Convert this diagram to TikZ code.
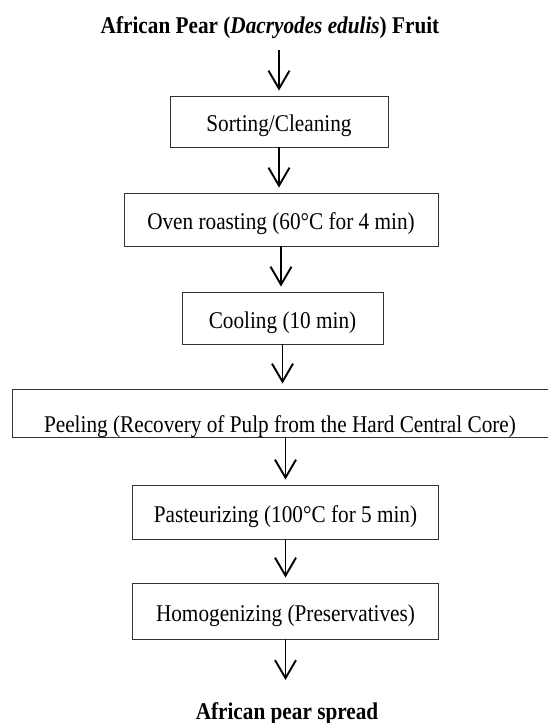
\documentclass[tikz,border=0pt]{standalone}
\usepackage{fontspec}
\setmainfont{Liberation Serif}[FakeStretch=0.885]
\usetikzlibrary{arrows.meta}
\begin{document}
\begin{tikzpicture}[x=1pt,y=-1pt,
  box/.style={draw=black!80, line width=0.9pt, inner sep=0pt, text height=20pt, text depth=0pt, font=\fontsize{24}{28}\selectfont},
  arr/.style={draw=black, line width=1.9pt, -{Straight Barb[length=18pt,width=21pt,line width=1.9pt]}, shorten >=5pt},
  lbl/.style={font=\fontsize{24}{28}\selectfont\bfseries, inner sep=3pt, anchor=base},
  plain/.style={font=\fontsize{24}{28}\selectfont, inner sep=0pt, anchor=base}]
\useasboundingbox (0,0) rectangle (548,723);
\clip (0,0) rectangle (548,723);

\node[lbl] (title) at (270,33) {African Pear (\textit{Dacryodes edulis}) Fruit};

\node[box, minimum width=218pt, minimum height=51pt] (b1) at (279,121.5) {Sorting/Cleaning};
\node[box, minimum width=314pt, minimum height=53pt] (b2) at (281,219.5) {Oven roasting (60°C for 4 min)};
\node[box, minimum width=201pt, minimum height=52pt] (b3) at (282.5,318) {Cooling (10 min)};
\node[box, minimum width=548pt, minimum height=48pt] (b4) at (286,413) {};
\begin{scope}
  \clip ([yshift=-1pt]b4.south west) rectangle (b4.north east);
  \node[plain] (peeltext) at (280,432) {Peeling (Recovery of Pulp from the Hard Central Core)};
\end{scope}
\node[box, minimum width=306pt, minimum height=54pt] (b5) at (285.5,512) {Pasteurizing (100°C for 5 min)};
\node[box, minimum width=306pt, minimum height=56pt] (b6) at (285.5,611) {Homogenizing (Preservatives)};

\node[lbl] (out) at (287,719) {African pear spread};

\draw[arr, shorten <=17pt] (title.base -| b1.north) -- (b1.north);
\draw[arr] (b1.south) -- (b1.south |- b2.north);
\draw[arr] (b2.south) -- (b2.south |- b3.north);
\draw[arr] (b3.south) -- (b3.south |- b4.north);
\draw[arr] (b4.south -| b5.north) -- (b5.north);
\draw[arr] (b5.south) -- (b6.north);
\draw[arr, shorten >=39pt] (b6.south) -- (b6.south |- out.base);
\end{tikzpicture}
\end{document}
